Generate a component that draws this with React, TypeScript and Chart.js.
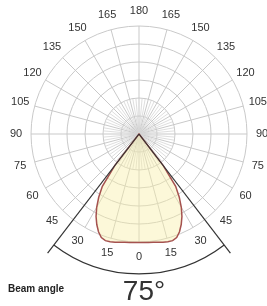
import React, { useEffect, useRef } from "react";
import { Chart, registerables } from "chart.js";

Chart.register(...registerables);

// Luminous intensity half-profile (symmetric), gamma angle measured from nadir
const profileAngles = [0, 2.5, 5, 7.5, 10, 12.5, 15, 17.5, 20, 22.5, 25, 27.5, 30, 32.5, 35, 37.5, 40];
const profileValues = [120.5, 120.6, 120.9, 121.4, 122.2, 123.1, 124, 124.2, 122.4, 117.6, 111, 103.3, 94, 83.3, 71, 44, 0];

// Angle tick labels shown around the diagram
const angleTickLabels = [0, 15, 30, 45, 60, 75, 90, 105, 120, 135, 150, 165, 180];

// Radial rings (intensity scale)
const ringMax = 120;
const ringStep = 20;

// Beam angle annotation
const beamAngle = 75;
const beamLabel = "Beam angle";

const angleStep = 2.5;
const FONT = '"Liberation Sans", Arial, sans-serif';

export default function App() {
  const ref = useRef<HTMLCanvasElement>(null);

  useEffect(() => {
    const count = Math.round(360 / angleStep);
    const labels: number[] = [];
    for (let i = 0; i < count; i++) labels.push(Math.abs(180 - i * angleStep));
    const data = labels.map((g) => {
      const k = profileAngles.indexOf(g);
      return k >= 0 ? profileValues[k] : 0;
    });
    const idxFor = (phiDeg: number) => Math.round((((phiDeg % 360) + 360) % 360) / angleStep);

    const overlay = {
      id: "polarOverlay",
      beforeDatasetsDraw(chart: any) {
        const s = chart.scales.r;
        const ctx = chart.ctx;
        ctx.save();
        ctx.strokeStyle = "#d6d6d6";
        ctx.lineWidth = 0.8;
        const inner = s.getDistanceFromCenterForValue(ringStep * 2);
        for (let i = 0; i < count; i++) {
          if (i % 2 !== 0 || i % 6 === 0) continue;
          const p = s.getPointPosition(i, inner);
          ctx.beginPath();
          ctx.moveTo(s.xCenter, s.yCenter);
          ctx.lineTo(p.x, p.y);
          ctx.stroke();
        }
        ctx.restore();
      },
      afterDraw(chart: any) {
        const s = chart.scales.r;
        const ctx = chart.ctx;
        const R = s.drawingArea;
        ctx.save();
        // angle labels
        ctx.fillStyle = "#333";
        ctx.font = `11px ${FONT}`;
        ctx.textAlign = "center";
        ctx.textBaseline = "middle";
        angleTickLabels.forEach((t) => {
          const phis = t === 0 || t === 180 ? [180 - t] : [180 - t, 180 + t];
          phis.forEach((phi) => {
            const p = s.getPointPosition(idxFor(phi), R + 15);
            ctx.fillText(String(t), p.x, p.y);
          });
        });
        // beam angle lines and arc
        const half = beamAngle / 2;
        const iL = idxFor(180 + half);
        const iR = idxFor(180 - half);
        ctx.strokeStyle = "#333";
        ctx.lineWidth = 1.2;
        [iL, iR].forEach((i) => {
          const p = s.getPointPosition(i, R * 1.39);
          ctx.beginPath();
          ctx.moveTo(s.xCenter, s.yCenter);
          ctx.lineTo(p.x, p.y);
          ctx.stroke();
        });
        const a0 = s.getIndexAngle(iR) - Math.PI / 2;
        const a1 = s.getIndexAngle(iL) - Math.PI / 2;
        ctx.beginPath();
        ctx.arc(s.xCenter, s.yCenter, R * 1.296, a0, a1);
        ctx.stroke();
        // texts
        ctx.fillStyle = "#222";
        ctx.textAlign = "left";
        ctx.textBaseline = "alphabetic";
        ctx.font = `bold 10px ${FONT}`;
        ctx.fillText(beamLabel, 8, 292);
        ctx.fillStyle = "#333";
        ctx.textAlign = "center";
        ctx.font = `28px ${FONT}`;
        ctx.fillText(`${beamAngle}°`, 144, 300);
        ctx.restore();
      },
    };

    const chart = new Chart(ref.current!, {
      type: "radar",
      data: {
        labels: labels.map(String),
        datasets: [
          {
            data,
            borderColor: "#a5524f",
            borderWidth: 1.5,
            backgroundColor: "rgba(248, 238, 165, 0.42)",
            fill: true,
            pointRadius: 0,
            tension: 0,
          },
        ],
      },
      options: {
        animation: false,
        responsive: false,
        maintainAspectRatio: false,
        events: [],
        layout: { padding: 0 },
        plugins: { legend: { display: false }, tooltip: { enabled: false } },
        scales: {
          r: {
            min: 0,
            max: ringMax,
            ticks: { display: false, stepSize: ringStep },
            grid: { circular: true, color: "#c9c9c9", lineWidth: 1 },
            angleLines: {
              display: true,
              color: "#c9c9c9",
              lineWidth: (c: any) => (c.index % 6 === 0 ? 1 : 0),
            },
            pointLabels: { display: false },
            afterFit: (scale: any) => {
              scale.xCenter = 139;
              scale.yCenter = 134;
              scale.drawingArea = 108;
            },
          },
        },
      },
      plugins: [overlay],
    } as any);
    return () => chart.destroy();
  }, []);

  return (
    <div style={{ position: "fixed", left: 0, top: 0, width: 267, height: 306, background: "#fff" }}>
      <canvas ref={ref} width={267} height={306} style={{ display: "block", width: 267, height: 306 }} />
    </div>
  );
}
